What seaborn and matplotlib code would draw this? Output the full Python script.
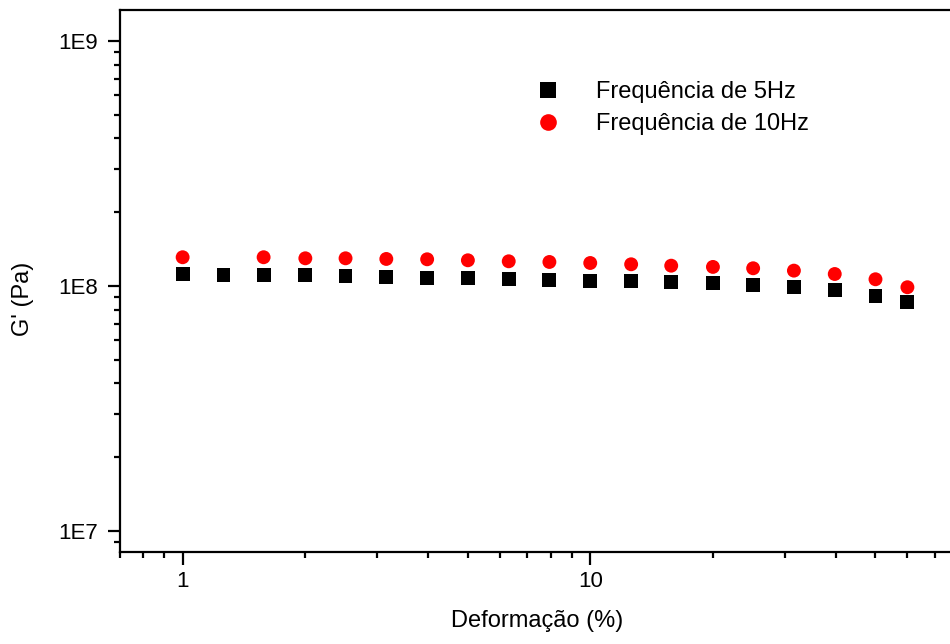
import numpy as np
import pandas as pd
import matplotlib
matplotlib.use("Agg")
import matplotlib.pyplot as plt
import matplotlib.ticker as mticker
import seaborn as sns

# Strain sweep (%) and storage modulus G' (Pa)
strain_5hz = [1.0, 1.26, 1.58, 2.0, 2.51, 3.16, 3.98, 5.01, 6.31, 7.94,
              10.0, 12.6, 15.8, 20.0, 25.1, 31.6, 39.8, 50.1, 60.0]
gprime_5hz = [1.116e8, 1.112e8, 1.109e8, 1.106e8, 1.099e8, 1.091e8, 1.081e8,
              1.075e8, 1.065e8, 1.059e8, 1.051e8, 1.045e8, 1.035e8, 1.026e8,
              1.007e8, 0.991e8, 0.960e8, 0.913e8, 0.858e8]

strain_10hz = [1.0, 1.58, 2.0, 2.51, 3.16, 3.98, 5.01, 6.31, 7.94,
               10.0, 12.6, 15.8, 20.0, 25.1, 31.6, 39.8, 50.1, 60.0]
gprime_10hz = [1.310e8, 1.310e8, 1.297e8, 1.297e8, 1.289e8, 1.285e8, 1.273e8,
               1.261e8, 1.253e8, 1.241e8, 1.226e8, 1.210e8, 1.196e8, 1.181e8,
               1.155e8, 1.119e8, 1.065e8, 0.988e8]

series_labels = ["Frequência de 5Hz", "Frequência de 10Hz"]
y_tick_values = [1e7, 1e8, 1e9]
y_tick_labels = ["1E7", "1E8", "1E9"]
x_tick_values = [1, 10]
x_tick_labels = ["1", "10"]

df = pd.concat([
    pd.DataFrame({"strain": strain_5hz, "G": gprime_5hz, "serie": series_labels[0]}),
    pd.DataFrame({"strain": strain_10hz, "G": gprime_10hz, "serie": series_labels[1]}),
], ignore_index=True)

sns.set_style("ticks")
plt.rcParams["font.family"] = ["Liberation Sans", "DejaVu Sans"]
plt.rcParams["text.color"] = "black"
plt.rcParams["axes.labelcolor"] = "black"
plt.rcParams["xtick.color"] = "black"
plt.rcParams["ytick.color"] = "black"

W, H = 950, 644
fig = plt.figure(figsize=(W / 100, H / 100), dpi=100)
ax_left, ax_right, ax_top, ax_bottom = 119.5, 959.0, 9.5, 552.0
ax = fig.add_axes([ax_left / W, 1 - ax_bottom / H,
                   (ax_right - ax_left) / W, (ax_bottom - ax_top) / H])

sns.scatterplot(data=df, x="strain", y="G", hue="serie", style="serie",
                hue_order=series_labels, style_order=series_labels,
                palette={series_labels[0]: "#000000", series_labels[1]: "#ff0000"},
                markers={series_labels[0]: "s", series_labels[1]: "o"},
                s=100, linewidth=0, ax=ax, legend=True)

ax.set_xscale("log")
ax.set_yscale("log")
ax.set_xlim(0.7, 80.3)
ax.set_ylim(8.2e6, 1.345e9)

ax.xaxis.set_major_locator(mticker.FixedLocator(x_tick_values))
ax.xaxis.set_major_formatter(mticker.FixedFormatter(x_tick_labels))
ax.xaxis.set_minor_locator(mticker.LogLocator(base=10, subs=np.arange(2, 10) / 1.0, numticks=20))
ax.xaxis.set_minor_formatter(mticker.NullFormatter())
ax.yaxis.set_major_locator(mticker.FixedLocator(y_tick_values))
ax.yaxis.set_major_formatter(mticker.FixedFormatter(y_tick_labels))
ax.yaxis.set_minor_locator(mticker.LogLocator(base=10, subs=np.arange(2, 10) / 1.0, numticks=20))
ax.yaxis.set_minor_formatter(mticker.NullFormatter())

for sp in ax.spines.values():
    sp.set_linewidth(1.6)
    sp.set_color("black")
ax.tick_params(which="major", direction="out", length=9, width=1.6,
               labelsize=16, pad=4.5, colors="black")
ax.tick_params(axis="y", which="major", pad=6.5)
ax.tick_params(which="minor", direction="out", length=4.5, width=1.6, colors="black")

ax.set_xlabel("Deformação (%)", fontsize=17)
ax.set_ylabel("G' (Pa)", fontsize=17)
ax.xaxis.label.set_va("center")
ax.yaxis.label.set_va("center")
ax.xaxis.set_label_coords((537 - ax_left) / (ax_right - ax_left),
                          (ax_bottom - 621) / (ax_bottom - ax_top))
ax.yaxis.set_label_coords((23 - ax_left) / (ax_right - ax_left),
                          (ax_bottom - 299) / (ax_bottom - ax_top))

handles, labels = ax.get_legend_handles_labels()
leg = ax.legend(handles, labels, frameon=False, fontsize=17,
                loc="center left", markerscale=1.2,
                bbox_to_anchor=(524 / W, 1 - 108 / H),
                bbox_transform=fig.transFigure,
                handletextpad=1.55, labelspacing=0.42, borderpad=0, handlelength=1.0)

fig.savefig("out.png", dpi=100, facecolor="white")
